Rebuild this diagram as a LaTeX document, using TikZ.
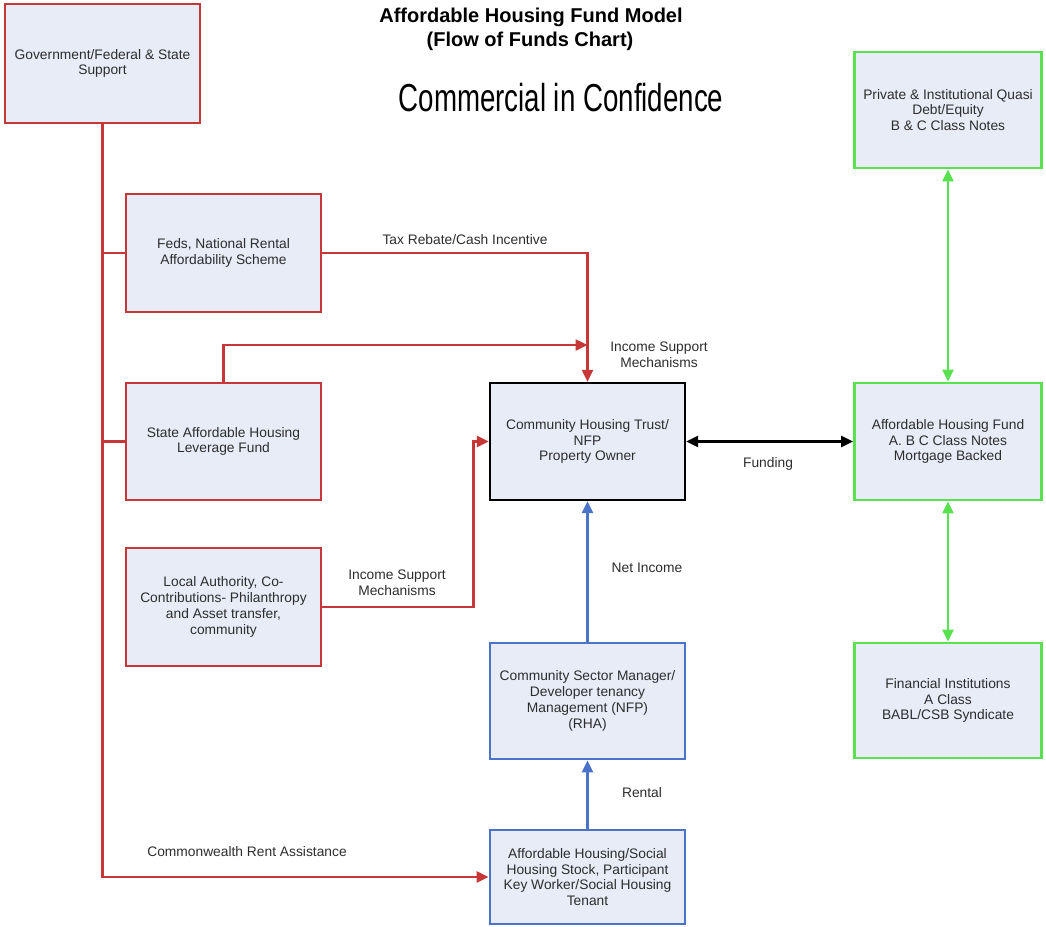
\documentclass[tikz,border=0pt]{standalone}
\usepackage{fontspec}
\setmainfont{Liberation Sans}
\setsansfont{Liberation Sans}
\usetikzlibrary{arrows.meta}
\definecolor{boxfill}{RGB}{231,236,247}
\definecolor{redline}{RGB}{200,55,55}
\definecolor{greenline}{RGB}{90,225,80}
\definecolor{blueline}{RGB}{75,115,200}
\definecolor{txt}{RGB}{45,45,45}
\tikzset{
  box/.style={draw, fill=boxfill, line width=2.8pt, align=center, text=txt,
    font=\fontsize{13.8}{15.8}\selectfont, inner sep=2pt},
  redbox/.style={box, draw=redline},
  greenbox/.style={box, draw=greenline},
  bluebox/.style={box, draw=blueline},
  blackbox/.style={box, draw=black, line width=2.2pt},
  conn/.style={line width=2.4pt},
  tip/.style={-{Triangle[length=12pt,width=11pt]}},
  dtip/.style={{Triangle[length=12pt,width=11pt]}-{Triangle[length=12pt,width=11pt]}},
  lbl/.style={align=center, text=txt, font=\fontsize{13.8}{15.8}\selectfont, inner sep=0pt}
}
\begin{document}
\begin{tikzpicture}[x=1pt,y=-1pt]
\useasboundingbox (0,0) rectangle (1046,926);
% titles
\node[font=\bfseries\fontsize{20}{24}\selectfont, inner sep=0pt] (t1) at (531,17) {Affordable Housing Fund Model};
\node[font=\bfseries\fontsize{20}{24}\selectfont, inner sep=0pt] (t2) at (530,41) {(Flow of Funds Chart)};
\node[font=\fontsize{39}{40}\selectfont, inner sep=0pt] (t3) at (561,98) {\scalebox{0.71}[1]{Commercial in Confidence}};
% boxes
\node[redbox, minimum width=195pt, minimum height=119pt] (gov) at (102.5,63.5) {Government/Federal \& State\\Support};
\node[redbox, minimum width=195pt, minimum height=118pt] (feds) at (223.5,253) {Feds, National Rental\\Affordability Scheme};
\node[redbox, minimum width=195pt, minimum height=117pt] (state) at (223.5,441.5) {State Affordable Housing\\Leverage Fund};
\node[redbox, minimum width=195pt, minimum height=118pt] (local) at (223.5,607) {Local Authority, Co-\\Contributions- Philanthropy\\and Asset transfer,\\community};
\node[blackbox, minimum width=195pt, minimum height=117pt] (cht) at (587.5,441.5) {Community Housing Trust/\\NFP\\Property Owner};
\node[greenbox, minimum width=187pt, minimum height=117pt] (ahf) at (948,441.5) {Affordable Housing Fund\\A. B C Class Notes\\Mortgage Backed};
\node[greenbox, minimum width=187pt, minimum height=116pt] (priv) at (948,110) {Private \& Institutional Quasi\\Debt/Equity\\B \& C Class Notes};
\node[greenbox, minimum width=187pt, minimum height=115pt] (fin) at (948,700.5) {Financial Institutions\\A Class\\BABL/CSB Syndicate};
\node[bluebox, minimum width=195pt, minimum height=116pt] (csm) at (587.5,701) {Community Sector Manager/\\Developer tenancy\\Management (NFP)\\(RHA)};
\node[bluebox, minimum width=195pt, minimum height=94pt] (stock) at (587.5,877) {Affordable Housing/Social\\Housing Stock, Participant\\Key Worker/Social Housing\\Tenant};
% red connectors
\draw[conn, redline, tip] (gov.south) |- (stock.west);
\draw[conn, redline] (gov.south |- feds.west) -- (feds.west);
\draw[conn, redline] (gov.south |- state.west) -- (state.west);
\draw[conn, redline, tip] (feds.east) -| (cht.north);
\coordinate (isj) at (587.5,345);
\draw[conn, redline, tip] (state.north) |- (isj);
\draw[conn, redline, tip] (local.east) -- ++(151,0) |- (cht.west);
% black
\draw[conn, black, dtip] (cht.east) -- (ahf.west);
% green
\draw[conn, greenline, dtip] (ahf.north) -- (priv.south);
\draw[conn, greenline, dtip] (ahf.south) -- (fin.north);
% blue
\draw[conn, blueline, tip] (csm.north) -- (cht.south);
\draw[conn, blueline, tip] (stock.north) -- (csm.south);
% labels
\node[lbl] (l1) at (465,240) {Tax Rebate/Cash Incentive};
\node[lbl] (l2) at (659,355) {Income Support\\Mechanisms};
\node[lbl] (l3) at (397,583) {Income Support\\Mechanisms};
\node[lbl] (l4) at (768,464) {Funding};
\node[lbl] (l5) at (647,568) {Net Income};
\node[lbl] (l6) at (642,793) {Rental};
\node[lbl] (l7) at (247,852) {Commonwealth Rent Assistance};
\end{tikzpicture}
\end{document}
